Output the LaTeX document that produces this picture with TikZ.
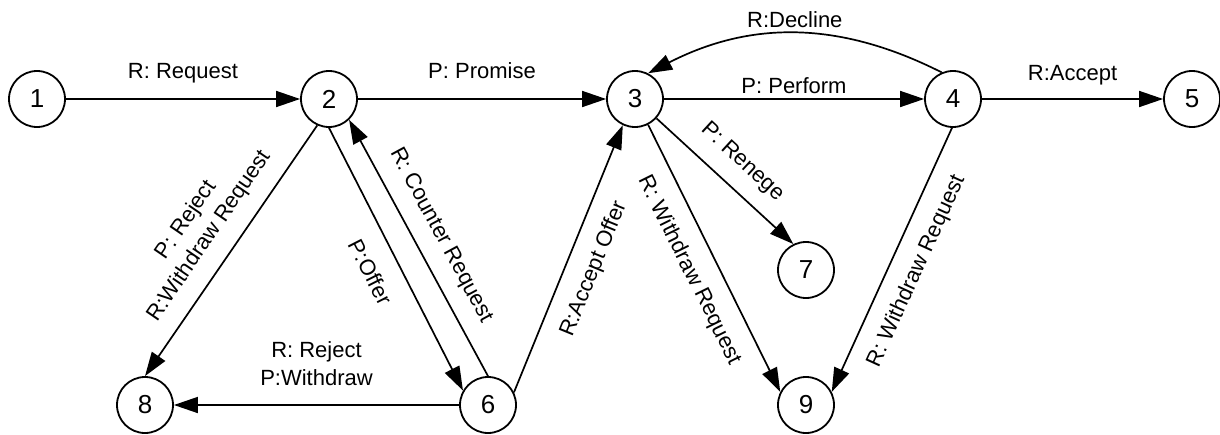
\documentclass[tikz,border=0pt]{standalone}
\usepackage{fontspec}
\setmainfont{Liberation Sans}
\usetikzlibrary{arrows.meta}
\begin{document}
\begin{tikzpicture}[x=1pt,y=-1pt,
  state/.style={circle,draw,line width=1.8pt,minimum size=56pt,inner sep=0pt,
    font=\fontsize{26}{30}\selectfont},
  trans/.style={line width=1.7pt,-{Triangle[length=24pt,width=16pt]}},
  lab/.style={font=\fontsize{22}{28}\selectfont,inner sep=0pt},
  hlab/.style={lab,midway,anchor=base},
  slab/.style={lab,sloped,midway}]
\useasboundingbox (0,0) rectangle (1220,434);

% states
\node[state] (1) at (37,99)   {1};
\node[state] (2) at (329,99)  {2};
\node[state] (3) at (635,99)  {3};
\node[state] (4) at (953,99)  {4};
\node[state] (5) at (1192,99) {5};
\node[state] (6) at (488,405) {6};
\node[state] (7) at (806,270) {7};
\node[state] (8) at (145,405) {8};
\node[state] (9) at (806,405) {9};

% upper row
\draw[trans] (1) -- node[hlab,yshift=21pt] {R: Request} (2);
\draw[trans] (2) -- node[hlab,yshift=21pt] {P: Promise} (3);
\draw[trans] (3) -- node[hlab,yshift=6pt] {P: Perform} (4);
\draw[trans] (4) -- node[hlab,yshift=19pt] {R:Accept} (5);
\draw[trans] (4.113) to[bend right=27] node[hlab,yshift=6pt] {R:Decline} (3.63);

% left triangle
\draw[trans] (2.-114) -- node[slab,above=15pt,align=center] {P: Reject\\R:Withdraw Request} (8.90);
\draw[trans] (2.-90) -- node[slab,below=19.5pt] {P:Offer} (6.150);
\draw[trans] (6.90) -- node[slab,above=15pt] {R: Counter Request} (2.-46);
\draw[trans] (6) -- node[lab,midway,above=18pt,align=center] {R: Reject\\P:Withdraw} (8);

% right part
\draw[trans] (6.26) -- node[slab,below=16.5pt] {R:Accept Offer} (3.-115);
\draw[trans] (3.-42) -- node[slab,above=15pt] {P: Renege} (7.116);
\draw[trans] (3.-63) -- node[slab,below=16.5pt] {R: Withdraw Request} (9.153);
\draw[trans] (4.-92) -- node[slab,below=16pt] {R: Withdraw Request} (9.27);
\end{tikzpicture}
\end{document}
